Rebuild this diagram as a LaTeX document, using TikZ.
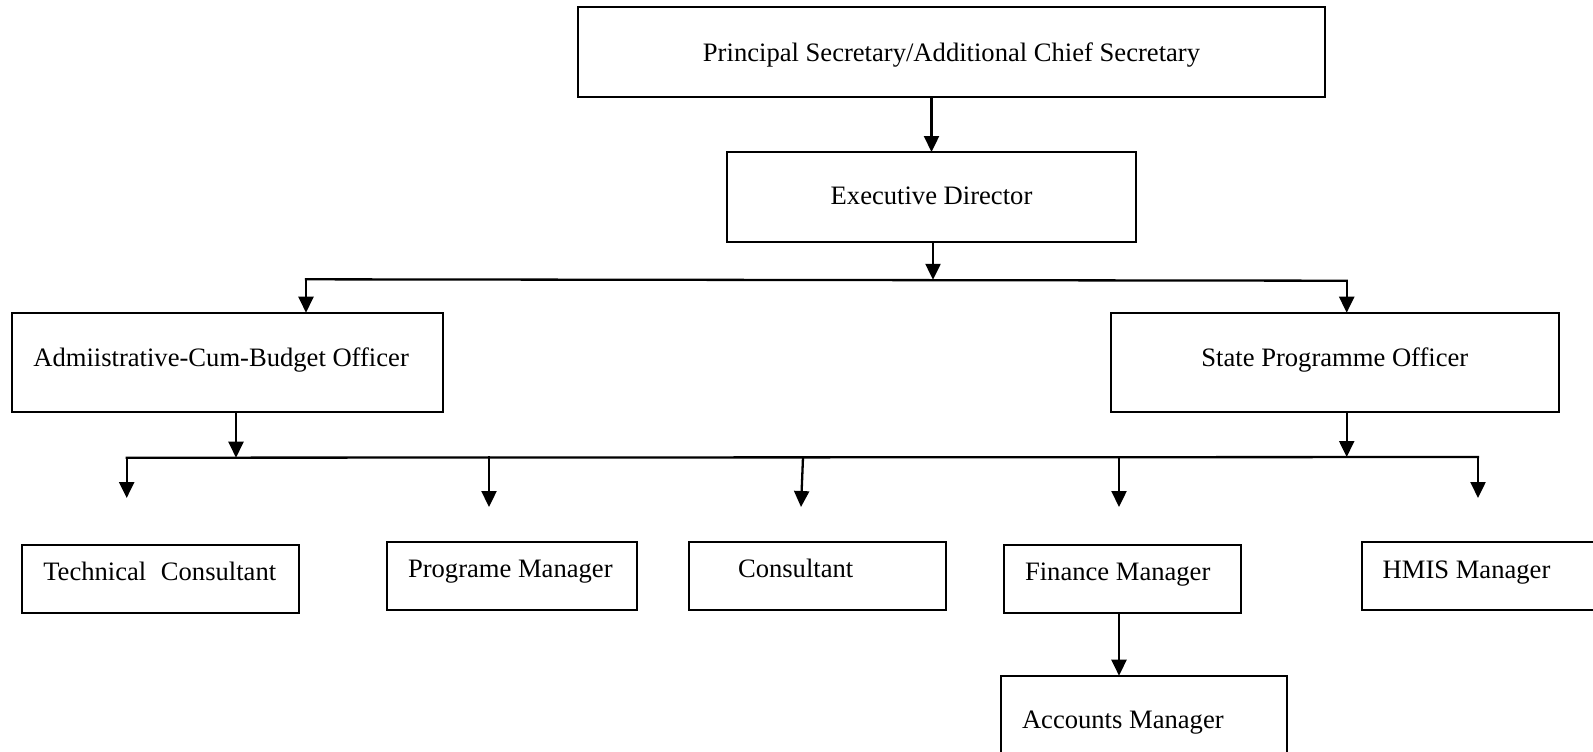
\documentclass[tikz,border=0pt]{standalone}
\usepackage{fontspec}
\setmainfont{Liberation Serif}
\usetikzlibrary{arrows.meta}
\begin{document}
\begin{tikzpicture}[x=0.5pt,y=-0.5pt,
  box/.style={draw, line width=1pt, inner sep=0pt, outer sep=0pt, anchor=north west,
    font=\fontsize{13.3}{16}\selectfont},
  arr/.style={line width=1.15pt, line cap=rect, -{Triangle[length=8pt,width=7.5pt]}},
  link/.style={line width=1.15pt, line cap=rect}]
\useasboundingbox (0,0) rectangle (1593,751);

% boxes
\node[box, text height=26.85pt, text depth=17.85pt] (ps) at (578,7.3)
  {\makebox[373.5pt]{Principal Secretary/Additional Chief Secretary}};
\node[box, text height=26pt, text depth=19pt] (ed) at (727,152)
  {\makebox[204.5pt]{Executive Director}};
\node[box, text height=26.65pt, text depth=22.85pt] (abo) at (12.3,312.7)
  {\makebox[215.5pt][l]{\hspace*{10.5pt}Admiistrative-Cum-Budget Officer}};
\node[box, text height=26.65pt, text depth=22.85pt] (spo) at (1111,312.7)
  {\makebox[223.85pt]{State Programme Officer}};
\node[box, text height=17.85pt, text depth=16.15pt] (tc) at (21.7,545)
  {\makebox[138.65pt][l]{\hspace*{10.8pt}Technical\hspace{0.55em}Consultant}};
\node[box, text height=17.9pt, text depth=16.25pt] (pm) at (387.3,541.7)
  {\makebox[124.85pt][l]{\hspace*{10.35pt}Programe Manager}};
\node[box, text height=17.65pt, text depth=16.5pt] (cons) at (689.4,541.7)
  {\makebox[128.15pt][l]{\hspace*{24.3pt}Consultant}};
\node[box, text height=17.85pt, text depth=16pt] (fm) at (1004,545)
  {\makebox[118.35pt][l]{\hspace*{10.5pt}Finance Manager}};
\node[box, text height=18.3pt, text depth=15.85pt] (hm) at (1361.7,541.7)
  {\makebox[119.15pt][l]{\hspace*{10.5pt}HMIS Manager}};
\node[box, text height=26.15pt, text depth=16pt] (am) at (1000.6,675.7)
  {\makebox[143.2pt][l]{\hspace*{10.7pt}Accounts Manager}};

% junction coordinates
\coordinate (j1) at (933,279.8);
\coordinate (l1) at (306,279.3);
\coordinate (r1) at (1346.7,280.7);
\coordinate (j2) at (236,457.7);
\coordinate (j3) at (1346.7,457);
\coordinate (b1) at (126.7,457.7);
\coordinate (b2) at (1478,457);
\coordinate (tcT) at (126.7,498);
\coordinate (pmS) at (489,457.5);
\coordinate (pmT) at (489,507);
\coordinate (coS) at (803,457.3);
\coordinate (coT) at (801,507);
\coordinate (fmS) at (1119,457.2);
\coordinate (fmT) at (1119,507);
\coordinate (hmT) at (1478,498);
\coordinate (fa) at (1119,640);

% connectors
\draw[arr] (ed.north |- ps.south) -- (ed.north);
\draw[arr] (ed.south -| j1) -- (j1);
\draw[link] (l1) -- (r1);
\draw[arr] (l1) -- (abo.north -| l1);
\draw[arr] (r1) -- (spo.north -| r1);
\draw[arr] (abo.south -| j2) -- (j2);
\draw[arr] (spo.south -| j3) -- (j3);
\draw[link] (b1) -- (b2);
\draw[arr] (b1) -- (tcT);
\draw[arr] (pmS) -- (pmT);
\draw[arr] (coS) -- (coT);
\draw[arr] (fmS) -- (fmT);
\draw[arr] (b2) -- (hmT);
\draw[arr] (fm.south -| fa) -- (am.north -| fa);
\end{tikzpicture}
\end{document}
